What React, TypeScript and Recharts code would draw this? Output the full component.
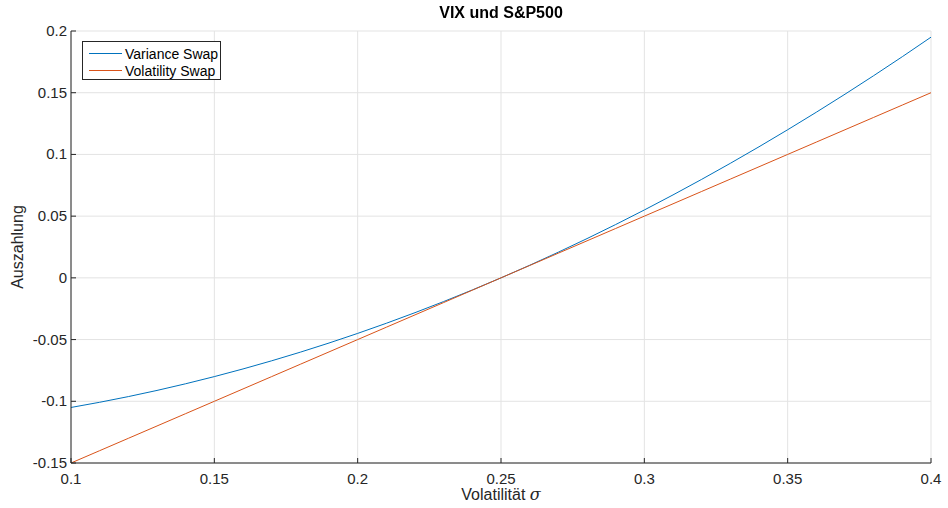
import React from "react";
import { LineChart, Line, XAxis, YAxis, CartesianGrid, Legend } from "recharts";

const sigma = [0.1, 0.11, 0.12, 0.13, 0.14, 0.15, 0.16, 0.17, 0.18, 0.19, 0.2, 0.21, 0.22, 0.23, 0.24, 0.25, 0.26, 0.27, 0.28, 0.29, 0.3, 0.31, 0.32, 0.33, 0.34, 0.35, 0.36, 0.37, 0.38, 0.39, 0.4];
const varianceSwap = [-0.105, -0.1008, -0.0962, -0.0912, -0.0858, -0.08, -0.0738, -0.0672, -0.0602, -0.0528, -0.045, -0.0368, -0.0282, -0.0192, -0.0098, 0, 0.0102, 0.0208, 0.0318, 0.0432, 0.055, 0.0672, 0.0798, 0.0928, 0.1062, 0.12, 0.1342, 0.1488, 0.1638, 0.1792, 0.195];
const volatilitySwap = [-0.15, -0.14, -0.13, -0.12, -0.11, -0.1, -0.09, -0.08, -0.07, -0.06, -0.05, -0.04, -0.03, -0.02, -0.01, 0, 0.01, 0.02, 0.03, 0.04, 0.05, 0.06, 0.07, 0.08, 0.09, 0.1, 0.11, 0.12, 0.13, 0.14, 0.15];
const xTicks = [0.1, 0.15, 0.2, 0.25, 0.3, 0.35, 0.4];
const yTicks = [-0.15, -0.1, -0.05, 0, 0.05, 0.1, 0.15, 0.2];
const seriesNames = ["Variance Swap", "Volatility Swap"];
const colors = ["#0072BD", "#D95319"];

const data = sigma.map((s, i) => ({ s, v: varianceSwap[i], w: volatilitySwap[i] }));

const FONT = "'Liberation Sans', Arial, Helvetica, sans-serif";
const AX = "#262626";
const fmt = (v: number) => String(Number(v.toFixed(4)));

const BottomTick = (p: any) => (
  <g>
    <line x1={p.x} x2={p.x} y1={p.y} y2={p.y - 5} stroke={AX} strokeWidth={1} />
    <text x={p.x} y={p.y + 21} textAnchor="middle" fontSize={15} fontFamily={FONT} fill={AX}>
      {fmt(p.payload.value)}
    </text>
  </g>
);
const TopTick = (p: any) => (
  <line x1={p.x} x2={p.x} y1={p.y} y2={p.y + 5} stroke={AX} strokeWidth={1} />
);
const LeftTick = (p: any) => (
  <g>
    <line x1={p.x} x2={p.x + 5} y1={p.y} y2={p.y} stroke={AX} strokeWidth={1} />
    <text x={p.x - 4} y={p.y + 5} textAnchor="end" fontSize={15} fontFamily={FONT} fill={AX}>
      {fmt(p.payload.value)}
    </text>
  </g>
);
const RightTick = (p: any) => (
  <line x1={p.x} x2={p.x - 5} y1={p.y} y2={p.y} stroke={AX} strokeWidth={1} />
);

const LegendBox = () => (
  <div
    style={{
      position: "absolute",
      left: 82,
      top: 41,
      width: 137,
      height: 37,
      border: `1px solid ${AX}`,
      background: "#fff",
      fontFamily: FONT,
      fontSize: 14,
      color: "#000",
    }}
  >
    {seriesNames.map((n, i) => (
      <div key={n} style={{ position: "absolute", left: 0, top: 3 + i * 17, height: 17, display: "flex", alignItems: "center" }}>
        <div style={{ marginLeft: 6, width: 33, height: 1, background: colors[i] }} />
        <span style={{ marginLeft: 3, whiteSpace: "nowrap" }}>{n}</span>
      </div>
    ))}
  </div>
);

export default function App() {
  return (
    <div style={{ position: "fixed", left: 0, top: 0, width: 948, height: 508, background: "#fff" }}>
      <LineChart width={948} height={508} data={data} margin={{ top: 31, right: 17, left: 0, bottom: 0 }}>
        <CartesianGrid stroke="#e3e3e3" strokeWidth={1} />
        <XAxis
          dataKey="s"
          type="number"
          domain={[0.1, 0.4]}
          ticks={xTicks}
          height={45}
          tickSize={0}
          tickMargin={0}
          tickLine={false}
          axisLine={{ stroke: AX }}
          tick={<BottomTick />}
          interval={0}
          allowDataOverflow
        />
        <XAxis
          xAxisId="top"
          orientation="top"
          dataKey="s"
          type="number"
          domain={[0.1, 0.4]}
          ticks={xTicks}
          height={0}
          tickSize={0}
          tickMargin={0}
          tickLine={false}
          axisLine={{ stroke: AX }}
          tick={<TopTick />}
          interval={0}
        />
        <YAxis
          type="number"
          domain={[-0.15, 0.2]}
          ticks={yTicks}
          width={71}
          tickSize={0}
          tickMargin={0}
          tickLine={false}
          axisLine={{ stroke: AX }}
          tick={<LeftTick />}
          interval={0}
          allowDataOverflow
        />
        <YAxis
          yAxisId="right"
          orientation="right"
          type="number"
          domain={[-0.15, 0.2]}
          ticks={yTicks}
          width={0}
          tickSize={0}
          tickMargin={0}
          tickLine={false}
          axisLine={{ stroke: AX }}
          tick={<RightTick />}
          interval={0}
        />
        <Legend content={() => <LegendBox />} wrapperStyle={{ position: "absolute", left: 0, top: 0, width: 0, height: 0 }} />
        <Line dataKey="v" name={seriesNames[0]} stroke={colors[0]} strokeWidth={1} dot={false} isAnimationActive={false} />
        <Line dataKey="w" name={seriesNames[1]} stroke={colors[1]} strokeWidth={1} dot={false} isAnimationActive={false} />
      </LineChart>
      <div style={{ position: "absolute", left: 0, width: 948 + 54, top: 4, textAlign: "center", fontFamily: FONT, fontWeight: "bold", fontSize: 16, color: "#000" }}>
        VIX und S&amp;P500
      </div>
      <div style={{ position: "absolute", left: 71, width: 860, top: 487, lineHeight: "16px", textAlign: "center", fontFamily: FONT, fontSize: 16, color: AX }}>
        Volatilität <span style={{ fontFamily: "'DejaVu Serif', serif", fontStyle: "italic" }}>σ</span>
      </div>
      <div
        style={{
          position: "absolute",
          left: 18,
          top: 247,
          transform: "translate(-50%, -50%) rotate(-90deg)",
          fontFamily: FONT,
          fontSize: 16,
          color: AX,
          whiteSpace: "nowrap",
        }}
      >
        Auszahlung
      </div>
    </div>
  );
}
